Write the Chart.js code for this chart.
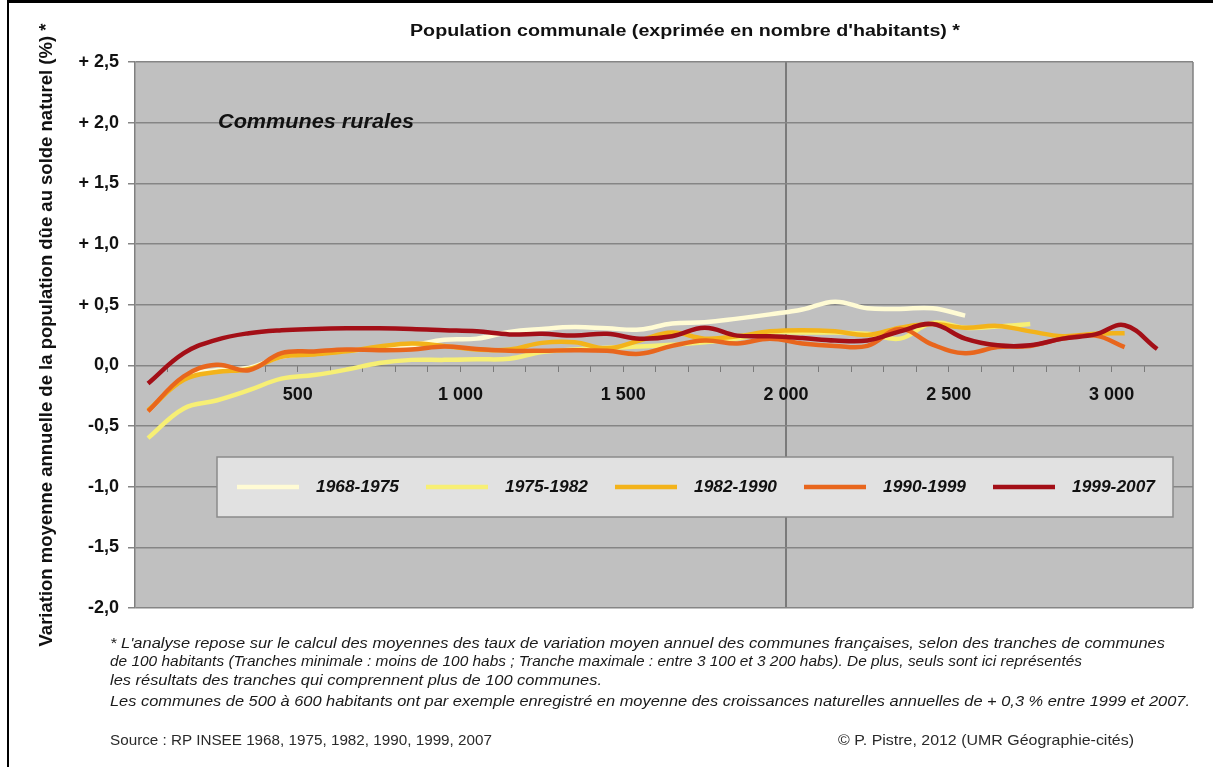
<!DOCTYPE html>
<html>
<head>
<meta charset="utf-8">
<script src="https://cdn.jsdelivr.net/npm/chart.js@4/dist/chart.umd.min.js"></script>
<style>
  html, body { margin:0; padding:0; background:#fff; }
  #wrap { position:relative; width:1213px; height:767px; overflow:hidden; background:#fff; }
  #c { position:absolute; left:0; top:0; }
  .frameTop { position:absolute; left:7px; top:0; width:1206px; height:3px; background:#000; }
  .frameLeft { position:absolute; left:7px; top:0; width:2px; height:767px; background:#000; }
  .txt { position:absolute; white-space:nowrap; display:inline-block; font-family:"Liberation Sans Narrow","Liberation Sans",Arial,sans-serif; color:#1a1a1a; line-height:18px; }
  .note { font-style:italic; font-size:15px; }
  .src { font-size:15px; color:#2a2a2a; }
  .title { font-weight:bold; font-size:16px; color:#111; }
</style>
</head>
<body>
<div id="wrap">
  <canvas id="c" width="1213" height="767"></canvas>
  <div class="frameTop"></div>
  <div class="frameLeft"></div>
  <div class="txt title" style="left:410px; top:22px;" data-w="550">Population communale (exprimée en nombre d'habitants) *</div>
  <div class="txt note" style="left:110px; top:634px;" data-w="1055">* L'analyse repose sur le calcul des moyennes des taux de variation moyen annuel des communes françaises, selon des tranches de communes</div>
  <div class="txt note" style="left:110px; top:652px;" data-w="972">de 100 habitants (Tranches minimale : moins de 100 habs ; Tranche maximale : entre 3 100 et 3 200 habs). De plus, seuls sont ici représentés</div>
  <div class="txt note" style="left:110px; top:671px;" data-w="492">les résultats des tranches qui comprennent plus de 100 communes.</div>
  <div class="txt note" style="left:110px; top:692px;" data-w="1080">Les communes de 500 à 600 habitants ont par exemple enregistré en moyenne des croissances naturelles annuelles de + 0,3 % entre 1999 et 2007.</div>
  <div class="txt src" style="left:110px; top:731px;" data-w="382">Source : RP INSEE 1968, 1975, 1982, 1990, 1999, 2007</div>
  <div class="txt src" style="left:838px; top:731px;" data-w="296">© P. Pistre, 2012 (UMR Géographie-cités)</div>
</div>
<script>
// ---- Data ----
const populations = [40,150,250,350,450,550,650,750,850,950,1050,1150,1250,1350,1450,1550,1650,1750,1850,1950,2050,2150,2250,2350,2450,2550,2650,2750,2850,2950,3040,3140];
const periods = ['1968-1975','1975-1982','1982-1990','1990-1999','1999-2007'];
const v1968 = [-0.38,-0.10,-0.04,-0.02,0.07,0.095,0.12,0.14,0.165,0.21,0.22,0.275,0.30,0.315,0.305,0.295,0.345,0.355,0.385,0.42,0.46,0.525,0.47,0.465,0.47,0.41];
const v1975 = [-0.60,-0.355,-0.29,-0.205,-0.11,-0.08,-0.035,0.02,0.045,0.045,0.05,0.055,0.11,0.13,0.145,0.155,0.17,0.19,0.22,0.27,0.27,0.27,0.26,0.22,0.35,0.31,0.32,0.34];
const v1982 = [-0.37,-0.12,-0.055,-0.03,0.07,0.09,0.115,0.155,0.18,0.16,0.13,0.13,0.185,0.19,0.14,0.205,0.27,0.22,0.24,0.28,0.29,0.28,0.25,0.31,0.34,0.31,0.325,0.28,0.24,0.26,0.265];
const v1990 = [-0.38,-0.09,0.005,-0.04,0.10,0.115,0.13,0.125,0.13,0.155,0.135,0.12,0.12,0.125,0.12,0.095,0.16,0.205,0.18,0.22,0.18,0.16,0.16,0.30,0.17,0.10,0.15,0.16,0.22,0.245,0.15];
const v1999 = [-0.15,0.10,0.21,0.265,0.29,0.30,0.305,0.305,0.30,0.29,0.28,0.255,0.26,0.245,0.26,0.22,0.24,0.31,0.245,0.24,0.225,0.205,0.205,0.28,0.34,0.22,0.165,0.165,0.22,0.255,0.33,0.135];
const yTickValues = [-2,-1.5,-1,-0.5,0,0.5,1,1.5,2,2.5];
const xLabelValues = [500,1000,1500,2000,2500,3000];
const colors = ['#FFFBD4','#F7EF74','#F3B31A','#E8661D','#A30F17'];
const FONT = '"Liberation Sans", Arial, sans-serif';

// fit HTML text widths
document.querySelectorAll('[data-w]').forEach(el => {
  const w = el.getBoundingClientRect().width;
  const k = (+el.dataset.w) / w;
  el.style.transformOrigin = 'left center';
  el.style.transform = 'scaleX(' + k + ')';
});

const seriesValues = [v1968, v1975, v1982, v1990, v1999];
const datasets = seriesValues.map((vals, i) => ({
  label: periods[i],
  data: vals.map((v, j) => ({ x: populations[j], y: v })),
  borderColor: colors[i],
  backgroundColor: colors[i],
  borderWidth: 4.5,
  pointRadius: 0,
  tension: 0.4,
  fill: false,
  order: 4 - i
}));

function fitText(ctx, text, x, y, targetW) {
  const w = ctx.measureText(text).width;
  ctx.save();
  ctx.translate(x, y);
  ctx.scale(targetW / w, 1);
  ctx.fillText(text, 0, 0);
  ctx.restore();
}

const decor = {
  id: 'decor',
  beforeDraw(chart) {
    const { ctx, chartArea: a } = chart;
    ctx.save();
    ctx.fillStyle = '#C0C0C0';
    ctx.fillRect(a.left, a.top, a.right - a.left, a.bottom - a.top);
    ctx.restore();
  },
  afterDraw(chart) {
    const { ctx, chartArea: a } = chart;
    ctx.save();
    ctx.strokeStyle = '#808080';
    ctx.lineWidth = 1.5;
    ctx.beginPath();
    ctx.moveTo(a.right, a.top); ctx.lineTo(a.right, a.bottom);
    ctx.stroke();
    ctx.fillStyle = '#111';
    ctx.font = 'italic bold 20px ' + FONT;
    ctx.textBaseline = 'middle';
    fitText(ctx, 'Communes rurales', 218, 122, 196);
    const lx = 217, ly = 457, lw = 956, lh = 60;
    ctx.fillStyle = '#E1E1E1';
    ctx.fillRect(lx, ly, lw, lh);
    ctx.strokeStyle = '#8A8A8A';
    ctx.lineWidth = 1.5;
    ctx.strokeRect(lx, ly, lw, lh);
    ctx.font = 'italic bold 17px ' + FONT;
    ctx.textBaseline = 'middle';
    const cy = ly + lh / 2;
    periods.forEach((p, i) => {
      const sx = 237 + 189 * i;
      ctx.strokeStyle = colors[i];
      ctx.lineWidth = 4.5;
      ctx.beginPath();
      ctx.moveTo(sx, cy); ctx.lineTo(sx + 62, cy);
      ctx.stroke();
      ctx.fillStyle = '#111';
      fitText(ctx, p, sx + 79, cy, 83);
    });
    ctx.restore();
  }
};

new Chart(document.getElementById('c'), {
  type: 'line',
  data: { datasets },
  options: {
    responsive: false,
    animation: false,
    devicePixelRatio: 1,
    layout: { padding: { top: 62, left: 36, right: 20, bottom: 159 } },
    plugins: { legend: { display: false }, title: { display: false }, tooltip: { enabled: false } },
    scales: {
      x: {
        type: 'linear',
        min: 0, max: 3250,
        position: { y: 0 },
        afterBuildTicks(scale) {
          scale.ticks = scale.ticks.filter(t => t.value > 0 && t.value < 3250 && t.value % 100 === 0);
        },
        ticks: {
          stepSize: 100,
          autoSkip: false,
          maxRotation: 0,
          padding: 12,
          color: '#111',
          font: { family: FONT, size: 18, weight: 'bold' },
          callback(v) {
            if (!xLabelValues.includes(v)) return '';
            return v >= 1000 ? Math.floor(v / 1000) + ' ' + String(v % 1000).padStart(3, '0') : String(v);
          }
        },
        grid: {
          drawOnChartArea: true,
          color: ctx => (ctx.tick && ctx.tick.value === 2000) ? '#7A7A7A' : 'rgba(0,0,0,0)',
          lineWidth: ctx => (ctx.tick && ctx.tick.value === 2000) ? 2 : 1,
          tickColor: '#7A7A7A',
          tickLength: 7
        },
        border: { display: false }
      },
      y: {
        type: 'linear',
        min: -2, max: 2.5,
        afterFit(scale) { scale.width = 99; },
        afterBuildTicks(scale) { scale.ticks = yTickValues.map(v => ({ value: v })); },
        ticks: {
          stepSize: 0.5,
          padding: 9,
          color: '#111',
          font: { family: FONT, size: 18, weight: 'bold' },
          callback(v) {
            const s = Math.abs(v).toFixed(1).replace('.', ',');
            return v > 0 ? '+ ' + s : (v < 0 ? '-' + s : s);
          }
        },
        grid: { color: '#858585', lineWidth: 1.5, tickColor: '#858585', tickLength: 7 },
        border: { display: true, color: '#808080', width: 1.5 },
        title: {
          display: true,
          text: "Variation moyenne annuelle de la population dûe au solde naturel (%) *",
          color: '#111',
          font: { family: FONT, size: 18.5, weight: 'bold' },
          padding: { top: 0, bottom: 0 }
        }
      }
    }
  },
  plugins: [decor]
});
</script>
</body>
</html>
